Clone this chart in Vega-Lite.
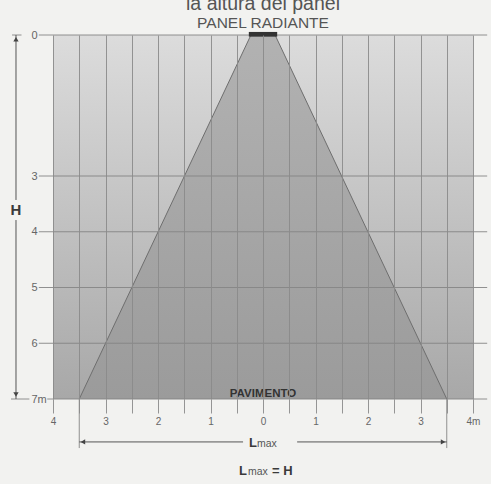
{
  "$schema": "https://vega.github.io/schema/vega-lite/v6.json",
  "width": 420,
  "height": 364,
  "autosize": "none",
  "padding": {"left": 53, "top": 35, "right": 18, "bottom": 85},
  "background": "#f2f2f0",
  "config": {"view": {"stroke": null}, "font": "Liberation Sans"},
  "datasets": {
    "bg": [{"x": -4, "x2": 4, "y": 0, "y2": 7}],
    "cone": [{"y": 0, "x": -0.23, "x2": 0.23}, {"y": 7, "x": -3.5, "x2": 3.5}],
    "edges": [{"x": -0.23, "y": 0, "x2": -3.5, "y2": 7}, {"x": 0.23, "y": 0, "x2": 3.5, "y2": 7}],
    "lines": [
      {"x": -4.27, "x2": 4.27, "y": 0, "y2": 0},
      {"x": -4.78, "x2": -4.6, "y": 0, "y2": 0},
      {"x": -4.27, "x2": 4.27, "y": 3, "y2": 3},
      {"x": -4.27, "x2": 4.27, "y": 4, "y2": 4},
      {"x": -4.27, "x2": 4.27, "y": 5, "y2": 5},
      {"x": -4.27, "x2": 4.27, "y": 6, "y2": 6},
      {"x": -4.11, "x2": 4.27, "y": 7, "y2": 7},
      {"x": -4.8, "x2": -4.45, "y": 7, "y2": 7},
      {"x": -3.5, "x2": -3.5, "y": 7, "y2": 7.88},
      {"x": 3.5, "x2": 3.5, "y": 7, "y2": 7.88}
    ],
    "arrows": [
      {"x": -4.705, "x2": -4.705, "y": 0, "y2": 3.43},
      {"x": -4.705, "x2": -4.705, "y": 3.79, "y2": 7},
      {"x": -3.5, "x2": -0.38, "y": 7.77, "y2": 7.77},
      {"x": 0.65, "x2": 3.5, "y": 7.77, "y2": 7.77}
    ],
    "heads": [
      {"x": -4.705, "y": 0.09, "dir": "up"},
      {"x": -4.705, "y": 6.92, "dir": "down"},
      {"x": -3.43, "y": 7.77, "dir": "left"},
      {"x": 3.43, "y": 7.77, "dir": "right"}
    ],
    "panel": [{"x": -0.27, "x2": 0.27, "y": -0.065, "y2": 0.035}]
  },
  "encoding": {
    "x": {"field": "x", "type": "quantitative", "scale": {"domain": [-4, 4], "nice": false, "zero": false},
      "axis": {"orient": "bottom", "values": [-4, -3.5, -3, -2.5, -2, -1.5, -1, -0.5, 0, 0.5, 1, 1.5, 2, 2.5, 3, 3.5, 4], "grid": true, "gridColor": "#8a8a8a", "gridWidth": 0.9, "gridOpacity": 1, "domain": false, "ticks": true, "tickSize": 14, "tickColor": "#8a8a8a", "tickWidth": 0.9, "labelExpr": "datum.value % 1 == 0 ? (datum.value == 4 ? '4m' : '' + abs(datum.value)) : ''", "labelFontSize": 10, "labelColor": "#666666", "labelPadding": 3, "labelFlush": false, "labelOverlap": false, "title": null, "zindex": 1}},
    "y": {"field": "y", "type": "quantitative", "scale": {"domain": [0, 3, 7], "range": [0, 141, 364], "nice": false, "zero": false},
      "axis": {"orient": "left", "values": [0, 3, 4, 5, 6, 7], "grid": false, "ticks": false, "domain": false, "labelAlign": "left", "labelBaseline": "middle", "labelPadding": 22, "labelExpr": "datum.value == 7 ? '7m' : '' + datum.value", "labelFontSize": 11, "labelColor": "#666666", "title": null}}
  },
  "layer": [
    {
      "data": {"name": "bg"},
      "mark": {"type": "rect", "color": {"gradient": "linear", "x1": 0, "y1": 0, "x2": 0, "y2": 1, "stops": [{"offset": 0, "color": "#dcdcdc"}, {"offset": 1, "color": "#a8a8a8"}]}},
      "encoding": {"x2": {"field": "x2"}, "y2": {"field": "y2"}}
    },
    {
      "data": {"name": "cone"},
      "mark": {"type": "area", "orient": "horizontal", "color": {"gradient": "linear", "x1": 0, "y1": 0, "x2": 0, "y2": 1, "stops": [{"offset": 0, "color": "#b2b2b2"}, {"offset": 1, "color": "#9b9b9b"}]}},
      "encoding": {"x2": {"field": "x2"}}
    },
    {
      "data": {"name": "edges"},
      "mark": {"type": "rule", "color": "#6e6e6e", "strokeWidth": 1},
      "encoding": {"x2": {"field": "x2"}, "y2": {"field": "y2"}}
    },
    {
      "data": {"name": "lines"},
      "mark": {"type": "rule", "color": "#858585", "strokeWidth": 0.9},
      "encoding": {"x2": {"field": "x2"}, "y2": {"field": "y2"}}
    },
    {
      "data": {"name": "arrows"},
      "mark": {"type": "rule", "color": "#555555", "strokeWidth": 1},
      "encoding": {"x2": {"field": "x2"}, "y2": {"field": "y2"}}
    },
    {
      "data": {"name": "heads"},
      "mark": {"type": "point", "filled": true, "size": 28, "color": "#444444", "opacity": 1},
      "encoding": {
        "shape": {"field": "dir", "type": "nominal", "scale": {"domain": ["up", "down", "left", "right"], "range": ["triangle-up", "triangle-down", "triangle-left", "triangle-right"]}, "legend": null}
      }
    },
    {
      "data": {"name": "panel"},
      "mark": {"type": "rect", "color": "#333333"},
      "encoding": {"x2": {"field": "x2"}, "y2": {"field": "y2"}}
    },
    {
      "data": {"values": [{"t": "la altura del panel", "x": 0, "y": -0.53}]},
      "mark": {"type": "text", "fontSize": 19.5, "color": "#555555", "align": "center", "baseline": "alphabetic"},
      "encoding": {"text": {"field": "t"}}
    },
    {
      "data": {"values": [{"t": "PANEL RADIANTE", "x": 0, "y": -0.15}]},
      "mark": {"type": "text", "fontSize": 15.5, "color": "#555555", "align": "center", "baseline": "alphabetic"},
      "encoding": {"text": {"field": "t"}}
    },
    {
      "data": {"values": [{"t": "H", "x": -4.705, "y": 3.61}]},
      "mark": {"type": "text", "fontSize": 15, "fontWeight": "bold", "color": "#3a3a3a", "align": "center", "baseline": "middle"},
      "encoding": {"text": {"field": "t"}}
    },
    {
      "data": {"values": [{"t": "PAVIMENTO", "x": 0, "y": 6.91}]},
      "mark": {"type": "text", "fontSize": 11.5, "fontWeight": "bold", "color": "#333333", "align": "center", "baseline": "middle"},
      "encoding": {"text": {"field": "t"}}
    },
    {
      "data": {"values": [{"t": "L", "x": -0.267, "y": 7.86}, {"t": "L", "x": -0.457, "y": 8.36}, {"t": "= H", "x": 0.17, "y": 8.36}]},
      "mark": {"type": "text", "fontSize": 13, "fontWeight": "bold", "color": "#3a3a3a", "align": "left", "baseline": "alphabetic"},
      "encoding": {"text": {"field": "t"}}
    },
    {
      "data": {"values": [{"t": "max", "x": -0.114, "y": 7.86}, {"t": "max", "x": -0.286, "y": 8.36}]},
      "mark": {"type": "text", "fontSize": 10.5, "color": "#555555", "align": "left", "baseline": "alphabetic"},
      "encoding": {"text": {"field": "t"}}
    }
  ]
}
